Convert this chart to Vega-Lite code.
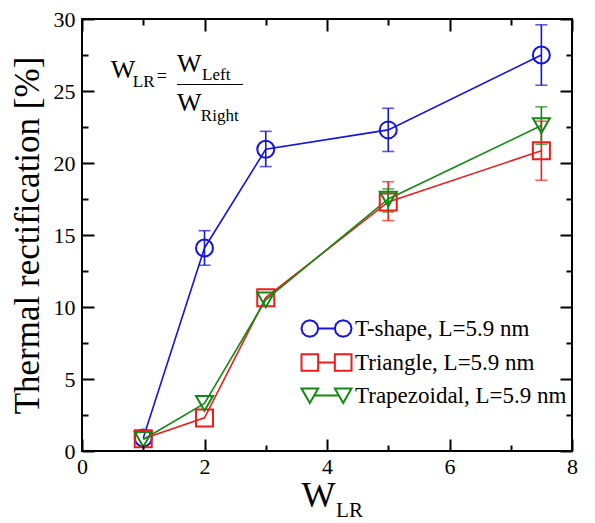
{
  "$schema": "https://vega.github.io/schema/vega-lite/v6.json",
  "width": 490,
  "height": 432,
  "autosize": {"type": "none"},
  "padding": {"left": 82, "top": 19, "right": 23, "bottom": 72},
  "background": "white",
  "config": {
    "font": "Liberation Serif",
    "view": {"stroke": "black", "strokeWidth": 2, "fill": "transparent"},
    "axis": {
      "labelColor": "black", "labelFont": "Liberation Serif", "labelFontSize": 22,
      "labelFlush": false, "labelOverlap": false, "zindex": 2,
      "titleFont": "Liberation Serif", "titleFontWeight": "normal", "titleColor": "black"
    },
    "legend": {
      "labelFont": "Liberation Serif", "labelFontSize": 23, "labelColor": "black", "labelLimit": 300,
      "symbolStrokeWidth": 2, "symbolSize": 278, "labelOffset": 17, "rowPadding": 9
    }
  },
  "datasets": {
    "d": [
      {"s": "T-shape, L=5.9 nm", "x": 1, "y": 0.9},
      {"s": "T-shape, L=5.9 nm", "x": 2, "y": 14.1, "lo": 12.9, "hi": 15.3},
      {"s": "T-shape, L=5.9 nm", "x": 3, "y": 20.95, "lo": 19.75, "hi": 22.2},
      {"s": "T-shape, L=5.9 nm", "x": 5, "y": 22.3, "lo": 20.8, "hi": 23.8},
      {"s": "T-shape, L=5.9 nm", "x": 7.5, "y": 27.5, "lo": 25.4, "hi": 29.6},
      {"s": "Triangle, L=5.9 nm", "x": 1, "y": 0.85},
      {"s": "Triangle, L=5.9 nm", "x": 2, "y": 2.3},
      {"s": "Triangle, L=5.9 nm", "x": 3, "y": 10.65},
      {"s": "Triangle, L=5.9 nm", "x": 5, "y": 17.3, "lo": 16.0, "hi": 18.7},
      {"s": "Triangle, L=5.9 nm", "x": 7.5, "y": 20.85, "lo": 18.8, "hi": 22.9},
      {"s": "Trapezoidal, L=5.9 nm", "x": 1, "y": 0.8},
      {"s": "Trapezoidal, L=5.9 nm", "x": 2, "y": 3.3},
      {"s": "Trapezoidal, L=5.9 nm", "x": 3, "y": 10.5},
      {"s": "Trapezoidal, L=5.9 nm", "x": 5, "y": 17.5, "lo": 16.6, "hi": 18.2},
      {"s": "Trapezoidal, L=5.9 nm", "x": 7.5, "y": 22.6, "lo": 21.3, "hi": 23.9}
    ]
  },
  "layer": [
    {
      "data": {"name": "d"},
      "mark": {"type": "line", "strokeWidth": 1.6},
      "encoding": {
        "x": {"field": "x", "type": "quantitative",
          "scale": {"domain": [0, 8], "nice": false},
          "axis": {"orient": "bottom", "values": [0, 2, 4, 6, 8], "offset": -12, "domain": false, "grid": false, "zindex": 2,
            "ticks": true, "tickSize": 12, "tickColor": "black", "tickWidth": 2, "tickOpacity": 1, "labelPadding": 5,
            "title": "W", "titleFontSize": 36, "titleX": 236, "titleY": 67, "titleBaseline": "alphabetic"}},
        "y": {"field": "y", "type": "quantitative",
          "scale": {"domain": [0, 30], "nice": false},
          "axis": {"orient": "left", "values": [0, 5, 10, 15, 20, 25, 30], "offset": -12, "domain": false, "grid": false, "zindex": 2,
            "ticks": true, "tickSize": 12, "tickColor": "black", "tickWidth": 2, "tickOpacity": 1, "labelPadding": 7,
            "title": "Thermal rectification [%]", "titleFontSize": 35, "titleX": -49, "titleBaseline": "bottom"}},
        "color": {"field": "s", "type": "nominal",
          "scale": {"domain": ["T-shape, L=5.9 nm", "Triangle, L=5.9 nm", "Trapezoidal, L=5.9 nm"], "range": ["#1414dc", "#ee1c1c", "#138a13"]},
          "legend": null}
      }
    },
    {
      "data": {"name": "d"},
      "transform": [{"filter": "isValid(datum.lo)"}],
      "mark": {"type": "rule", "strokeWidth": 1.6},
      "encoding": {
        "x": {"field": "x", "type": "quantitative",
          "axis": {"orient": "top", "values": [0, 2, 4, 6, 8], "offset": -12, "domain": false, "grid": false, "labels": false, "zindex": 2,
            "ticks": true, "tickSize": 12, "tickColor": "black", "tickWidth": 2, "tickOpacity": 1, "title": null}},
        "y": {"field": "lo", "type": "quantitative",
          "axis": {"orient": "right", "values": [0, 5, 10, 15, 20, 25, 30], "offset": -12, "domain": false, "grid": false, "labels": false, "zindex": 2,
            "ticks": true, "tickSize": 12, "tickColor": "black", "tickWidth": 2, "tickOpacity": 1, "title": null}},
        "y2": {"field": "hi"},
        "color": {"field": "s", "type": "nominal", "legend": null}
      }
    },
    {
      "data": {"name": "d"},
      "transform": [{"filter": "isValid(datum.lo)"}, {"fold": ["lo", "hi"], "as": ["k", "v"]}],
      "mark": {"type": "tick", "orient": "horizontal", "size": 12, "thickness": 1.6},
      "encoding": {
        "x": {"field": "x", "type": "quantitative",
          "axis": {"orient": "bottom", "values": [1, 3, 5, 7], "offset": -6, "domain": false, "grid": false, "labels": false, "zindex": 2,
            "ticks": true, "tickSize": 6, "tickColor": "black", "tickWidth": 2, "tickOpacity": 1,
            "title": "LR", "titleFontSize": 21, "titleX": 267, "titleY": 71, "titleBaseline": "alphabetic"}},
        "y": {"field": "v", "type": "quantitative",
          "axis": {"orient": "left", "values": [2.5, 7.5, 12.5, 17.5, 22.5, 27.5], "offset": -6, "domain": false, "grid": false, "labels": false, "zindex": 2,
            "ticks": true, "tickSize": 6, "tickColor": "black", "tickWidth": 2, "tickOpacity": 1, "title": null}},
        "color": {"field": "s", "type": "nominal", "legend": null}
      }
    },
    {
      "data": {"name": "d"},
      "mark": {"type": "point", "filled": false, "strokeWidth": 2, "size": 289, "opacity": 1},
      "encoding": {
        "x": {"field": "x", "type": "quantitative",
          "axis": {"orient": "top", "values": [1, 3, 5, 7], "offset": -6, "domain": false, "grid": false, "labels": false, "zindex": 2,
            "ticks": true, "tickSize": 6, "tickColor": "black", "tickWidth": 2, "tickOpacity": 1, "title": null}},
        "y": {"field": "y", "type": "quantitative",
          "axis": {"orient": "right", "values": [2.5, 7.5, 12.5, 17.5, 22.5, 27.5], "offset": -6, "domain": false, "grid": false, "labels": false, "zindex": 2,
            "ticks": true, "tickSize": 6, "tickColor": "black", "tickWidth": 2, "tickOpacity": 1, "title": null}},
        "shape": {"field": "s", "type": "nominal",
          "scale": {"domain": ["T-shape, L=5.9 nm", "Triangle, L=5.9 nm", "Trapezoidal, L=5.9 nm"], "range": ["circle", "square", "triangle-down"]},
          "legend": null},
        "color": {"field": "s", "type": "nominal",
          "legend": {"title": null, "orient": "none", "legendX": 233, "legendY": 298,
            "symbolType": {"expr": "datum.value === 'T-shape, L=5.9 nm' ? 'M-1,0L-1.134,0.5L-1.5,0.866L-2,1L-2.5,0.866L-2.866,0.5L-3,0L-2.866,-0.5L-2.5,-0.866L-2,-1L-1.5,-0.866L-1.134,-0.5ZM-1,0L1,0M3,0L2.866,0.5L2.5,0.866L2,1L1.5,0.866L1.134,0.5L1,0L1.134,-0.5L1.5,-0.866L2,-1L2.5,-0.866L2.866,-0.5Z' : datum.value === 'Triangle, L=5.9 nm' ? 'M-3,-1L-1,-1L-1,1L-3,1ZM-1,0L1,0M1,-1L3,-1L3,1L1,1Z' : 'M-3,-0.85L-1,-0.85L-2,0.9ZM-1.5,0L1.5,0M1,-0.85L3,-0.85L2,0.9Z'"}}}
      }
    },
    {
      "data": {"values": [{}]},
      "mark": {"type": "text", "text": "W", "fontSize": 26, "align": "left", "baseline": "alphabetic", "font": "Liberation Serif", "color": "black"},
      "encoding": {"x": {"datum": 0.47, "type": "quantitative", "axis": null}, "y": {"datum": 25.9, "type": "quantitative", "axis": null}}
    },
    {
      "data": {"values": [{}]},
      "mark": {"type": "text", "text": "LR", "fontSize": 17, "align": "left", "baseline": "alphabetic", "font": "Liberation Serif", "color": "black"},
      "encoding": {"x": {"datum": 0.83, "type": "quantitative", "axis": null}, "y": {"datum": 25.28, "type": "quantitative", "axis": null}}
    },
    {
      "data": {"values": [{}]},
      "mark": {"type": "text", "text": "=", "fontSize": 18, "align": "left", "baseline": "alphabetic", "font": "Liberation Serif", "color": "black"},
      "encoding": {"x": {"datum": 1.22, "type": "quantitative", "axis": null}, "y": {"datum": 25.6, "type": "quantitative", "axis": null}}
    },
    {
      "data": {"values": [{}]},
      "mark": {"type": "text", "text": "W", "fontSize": 26, "align": "left", "baseline": "alphabetic", "font": "Liberation Serif", "color": "black"},
      "encoding": {"x": {"datum": 1.55, "type": "quantitative", "axis": null}, "y": {"datum": 26.35, "type": "quantitative", "axis": null}}
    },
    {
      "data": {"values": [{}]},
      "mark": {"type": "text", "text": "Left", "fontSize": 17, "align": "left", "baseline": "alphabetic", "font": "Liberation Serif", "color": "black"},
      "encoding": {"x": {"datum": 1.96, "type": "quantitative", "axis": null}, "y": {"datum": 25.76, "type": "quantitative", "axis": null}}
    },
    {
      "data": {"values": [{}]},
      "mark": {"type": "rule", "strokeWidth": 1.2, "color": "black"},
      "encoding": {"x": {"datum": 1.55, "type": "quantitative", "axis": null}, "x2": {"datum": 2.63}, "y": {"datum": 25.45, "type": "quantitative", "axis": null}}
    },
    {
      "data": {"values": [{}]},
      "mark": {"type": "text", "text": "W", "fontSize": 26, "align": "left", "baseline": "alphabetic", "font": "Liberation Serif", "color": "black"},
      "encoding": {"x": {"datum": 1.55, "type": "quantitative", "axis": null}, "y": {"datum": 23.6, "type": "quantitative", "axis": null}}
    },
    {
      "data": {"values": [{}]},
      "mark": {"type": "text", "text": "Right", "fontSize": 17, "align": "left", "baseline": "alphabetic", "font": "Liberation Serif", "color": "black"},
      "encoding": {"x": {"datum": 1.94, "type": "quantitative", "axis": null}, "y": {"datum": 22.9, "type": "quantitative", "axis": null}}
    }
  ],
  "resolve": {"axis": {"x": "independent", "y": "independent"}, "legend": {"color": "independent"}}
}
